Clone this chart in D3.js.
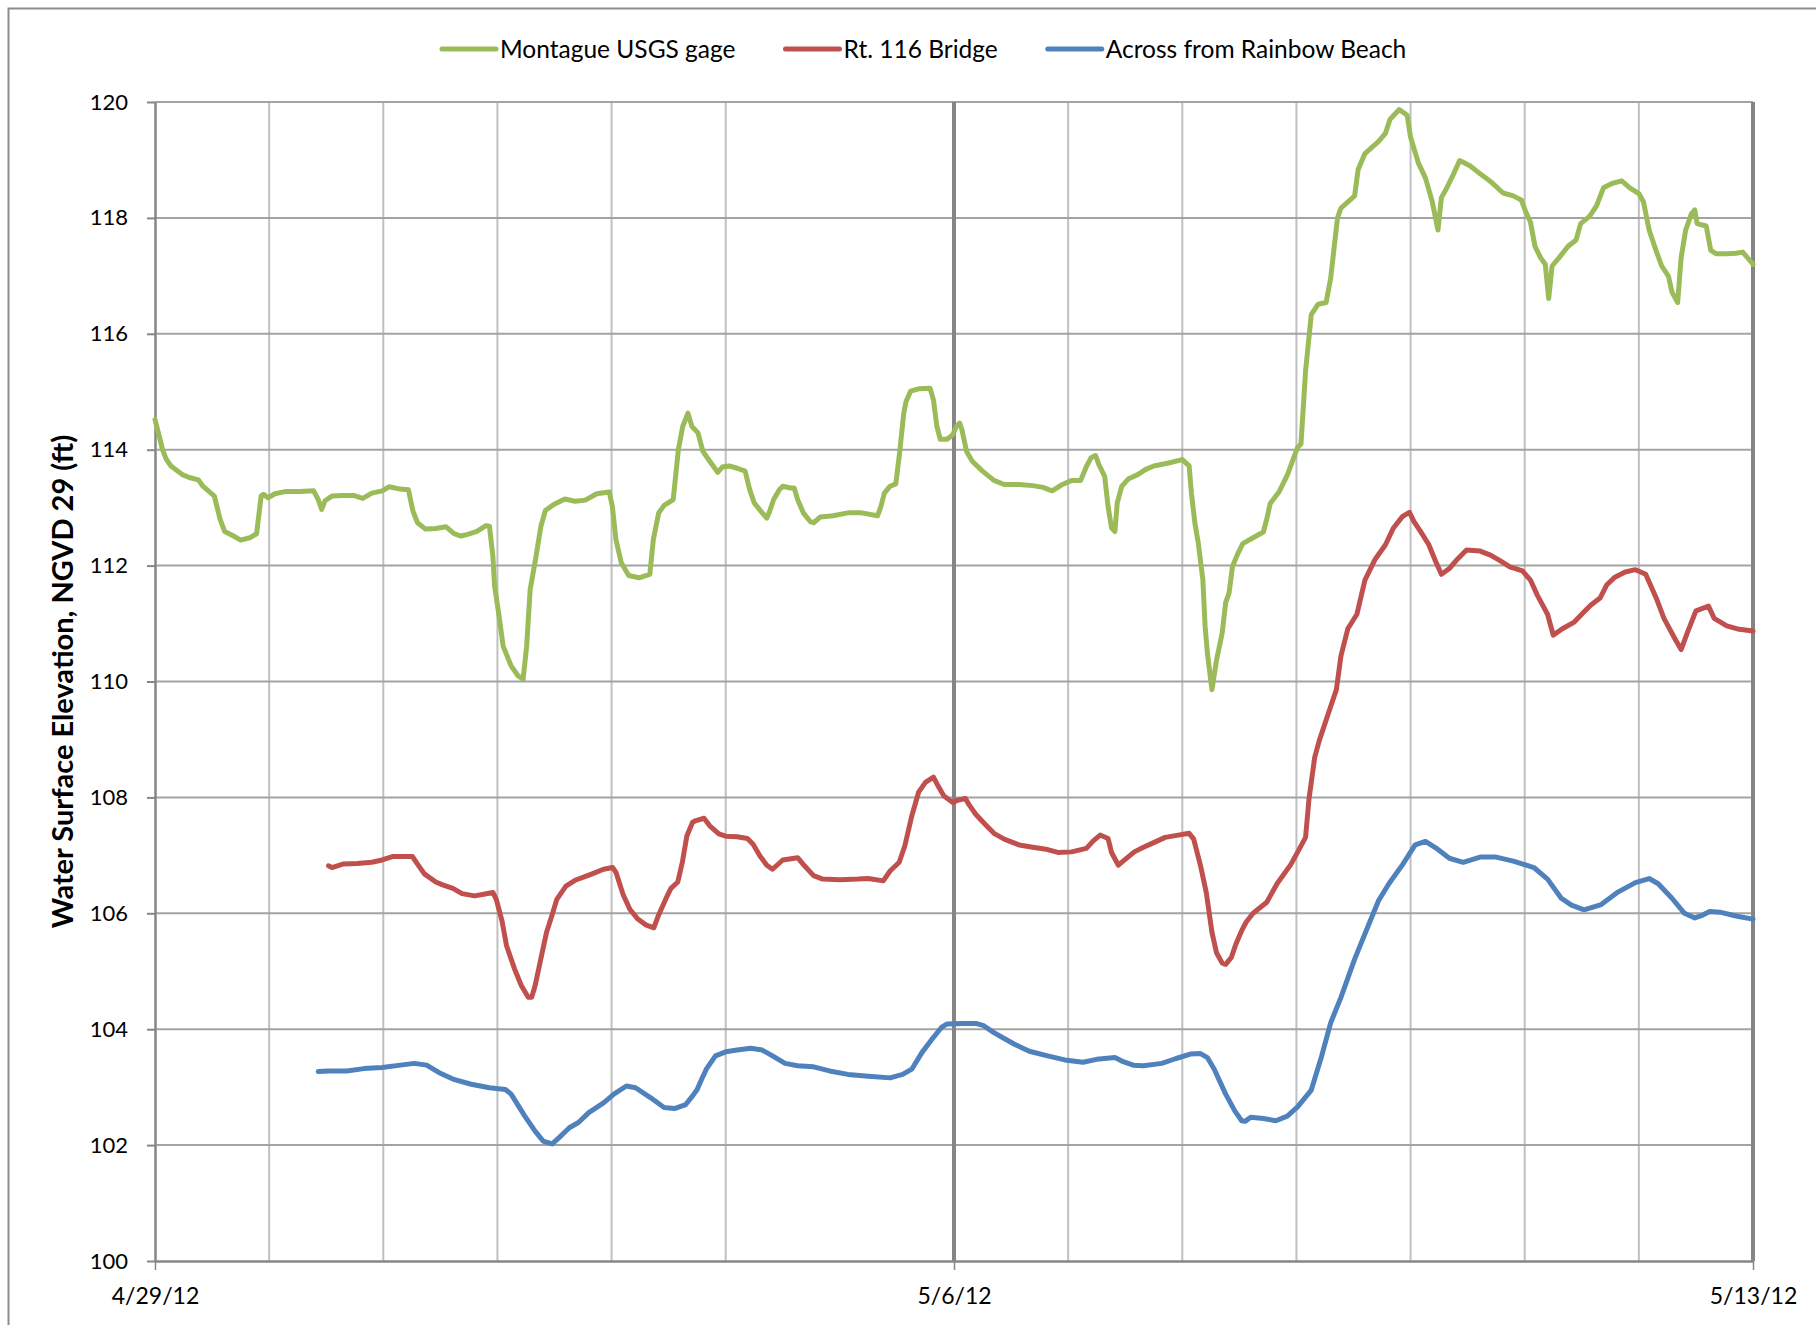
<!DOCTYPE html>
<html>
<head>
<meta charset="utf-8">
<script src="https://cdn.jsdelivr.net/npm/d3@7"></script>
<style>
  body { margin: 0; background: #fff; }
  svg { display: block; font-family: Lato, "Open Sans", sans-serif; }
</style>
</head>
<body>
<svg id="chart" width="1816" height="1325"></svg>
<script>
// Water surface elevation records, [days since 4/29/12 00:00, elevation in ft NGVD 29]
const montagueGage = [
  [0.00,114.52],[0.03,114.29],[0.066,114.0],[0.10,113.83],[0.14,113.72],[0.24,113.57],[0.30,113.52],
  [0.38,113.48],[0.42,113.37],[0.52,113.2],[0.57,112.8],[0.61,112.59],[0.68,112.52],[0.75,112.44],
  [0.83,112.48],[0.89,112.55],[0.93,113.2],[0.95,113.23],[0.99,113.17],[1.05,113.24],[1.15,113.28],
  [1.27,113.28],[1.39,113.29],[1.43,113.14],[1.46,112.97],[1.49,113.12],[1.55,113.2],[1.65,113.21],
  [1.74,113.21],[1.82,113.16],[1.90,113.25],[1.99,113.29],[2.05,113.36],[2.15,113.32],[2.22,113.31],
  [2.26,112.94],[2.30,112.74],[2.37,112.63],[2.46,112.64],[2.55,112.67],[2.62,112.55],[2.68,112.51],
  [2.74,112.54],[2.82,112.59],[2.90,112.69],[2.93,112.68],[2.96,112.16],[2.975,111.65],[3.01,111.19],
  [3.05,110.61],[3.12,110.27],[3.18,110.1],[3.225,110.04],[3.256,110.61],[3.287,111.59],[3.334,112.11],
  [3.381,112.68],[3.42,112.95],[3.49,113.05],[3.59,113.15],[3.68,113.11],[3.77,113.13],[3.87,113.24],
  [3.98,113.27],[4.007,113.02],[4.038,112.45],[4.085,112.05],[4.15,111.83],[4.24,111.79],[4.335,111.85],
  [4.366,112.45],[4.413,112.91],[4.46,113.04],[4.54,113.14],[4.585,114.0],[4.623,114.4],[4.669,114.63],
  [4.704,114.4],[4.757,114.29],[4.80,113.97],[4.86,113.8],[4.93,113.61],[4.97,113.7],[5.03,113.72],
  [5.10,113.68],[5.17,113.63],[5.21,113.31],[5.25,113.08],[5.32,112.91],[5.36,112.82],[5.38,112.91],
  [5.42,113.14],[5.47,113.31],[5.50,113.37],[5.57,113.34],[5.60,113.34],[5.63,113.14],[5.68,112.91],
  [5.74,112.76],[5.77,112.74],[5.83,112.84],[5.94,112.86],[6.07,112.91],[6.19,112.91],[6.33,112.86],
  [6.36,113.02],[6.39,113.25],[6.44,113.37],[6.49,113.41],[6.52,113.89],[6.56,114.63],[6.58,114.83],
  [6.62,115.01],[6.69,115.05],[6.79,115.06],[6.82,114.86],[6.85,114.4],[6.88,114.18],[6.94,114.18],
  [6.99,114.26],[7.02,114.4],[7.05,114.46],[7.07,114.34],[7.11,113.97],[7.16,113.8],[7.25,113.63],
  [7.35,113.47],[7.44,113.4],[7.57,113.4],[7.69,113.38],[7.78,113.35],[7.86,113.29],[7.94,113.39],
  [8.03,113.47],[8.11,113.47],[8.16,113.71],[8.20,113.86],[8.24,113.9],[8.27,113.74],[8.32,113.54],
  [8.35,113.02],[8.38,112.65],[8.41,112.59],[8.43,113.08],[8.47,113.37],[8.53,113.5],[8.61,113.57],
  [8.68,113.66],[8.75,113.72],[8.88,113.77],[9.00,113.83],[9.06,113.72],[9.08,113.25],[9.11,112.74],
  [9.14,112.39],[9.18,111.76],[9.20,110.95],[9.22,110.49],[9.26,109.86],[9.30,110.37],[9.35,110.84],
  [9.38,111.36],[9.41,111.53],[9.44,111.99],[9.49,112.22],[9.53,112.38],[9.62,112.48],[9.71,112.58],
  [9.74,112.8],[9.77,113.07],[9.85,113.28],[9.92,113.56],[10.01,114.04],[10.04,114.1],[10.08,115.36],
  [10.13,116.33],[10.19,116.51],[10.26,116.54],[10.30,116.96],[10.36,118.0],[10.39,118.17],[10.51,118.38],
  [10.54,118.83],[10.60,119.11],[10.72,119.32],[10.78,119.46],[10.82,119.7],[10.90,119.87],[10.97,119.77],
  [11.00,119.39],[11.07,118.94],[11.13,118.69],[11.19,118.28],[11.24,117.79],[11.27,118.35],[11.31,118.49],
  [11.37,118.73],[11.43,118.99],[11.52,118.9],[11.61,118.76],[11.70,118.63],[11.81,118.43],[11.90,118.38],
  [11.97,118.31],[12.01,118.1],[12.05,117.93],[12.09,117.51],[12.14,117.31],[12.18,117.2],[12.21,116.61],
  [12.24,117.17],[12.30,117.31],[12.38,117.51],[12.45,117.62],[12.49,117.9],[12.57,118.03],[12.63,118.21],
  [12.69,118.52],[12.76,118.59],[12.85,118.64],[12.92,118.52],[13.00,118.42],[13.04,118.28],[13.09,117.79],
  [13.15,117.44],[13.20,117.17],[13.26,116.99],[13.29,116.72],[13.34,116.54],[13.37,117.31],[13.41,117.79],
  [13.46,118.07],[13.49,118.14],[13.51,117.9],[13.59,117.86],[13.63,117.44],[13.68,117.38],[13.77,117.38],
  [13.85,117.39],[13.91,117.41],[14.00,117.2]
];

const rt116Bridge = [
  [1.52,106.82],[1.55,106.79],[1.645,106.85],[1.77,106.86],[1.90,106.88],[1.99,106.92],[2.08,106.98],
  [2.18,106.98],[2.255,106.98],[2.30,106.85],[2.36,106.68],[2.46,106.54],[2.52,106.49],[2.61,106.43],
  [2.69,106.34],[2.80,106.3],[2.88,106.33],[2.96,106.36],[2.99,106.24],[3.04,105.87],[3.08,105.44],
  [3.15,105.04],[3.21,104.75],[3.27,104.55],[3.30,104.55],[3.33,104.75],[3.38,105.21],[3.43,105.67],
  [3.48,105.98],[3.52,106.24],[3.60,106.47],[3.68,106.57],[3.76,106.63],[3.83,106.68],[3.93,106.76],
  [4.01,106.79],[4.04,106.7],[4.10,106.33],[4.16,106.07],[4.23,105.9],[4.30,105.8],[4.37,105.75],
  [4.41,105.96],[4.48,106.27],[4.52,106.43],[4.58,106.54],[4.62,106.88],[4.66,107.34],[4.71,107.57],
  [4.74,107.6],[4.81,107.64],[4.86,107.51],[4.94,107.37],[5.00,107.33],[5.10,107.32],[5.19,107.29],
  [5.24,107.19],[5.30,106.99],[5.36,106.83],[5.41,106.76],[5.50,106.92],[5.63,106.96],[5.69,106.82],
  [5.77,106.65],[5.85,106.59],[6.00,106.58],[6.16,106.59],[6.25,106.6],[6.38,106.56],[6.44,106.73],
  [6.52,106.88],[6.57,107.17],[6.63,107.68],[6.69,108.09],[6.75,108.26],[6.82,108.35],[6.86,108.2],
  [6.91,108.03],[6.99,107.91],[7.03,107.95],[7.10,107.98],[7.13,107.88],[7.19,107.71],[7.27,107.54],
  [7.35,107.38],[7.44,107.28],[7.57,107.18],[7.69,107.14],[7.82,107.1],[7.91,107.05],[8.03,107.06],
  [8.16,107.12],[8.22,107.25],[8.28,107.35],[8.35,107.29],[8.38,107.05],[8.44,106.83],[8.50,106.93],
  [8.58,107.06],[8.66,107.14],[8.75,107.22],[8.85,107.31],[8.94,107.34],[9.06,107.38],[9.10,107.28],
  [9.16,106.82],[9.21,106.36],[9.26,105.67],[9.30,105.32],[9.35,105.14],[9.38,105.12],[9.43,105.24],
  [9.47,105.47],[9.52,105.7],[9.56,105.85],[9.62,106.0],[9.74,106.19],[9.83,106.51],[9.95,106.84],
  [10.02,107.09],[10.08,107.31],[10.11,107.97],[10.16,108.69],[10.20,108.98],[10.30,109.57],[10.35,109.86],
  [10.39,110.44],[10.45,110.91],[10.53,111.16],[10.60,111.75],[10.69,112.11],[10.78,112.36],[10.85,112.65],
  [10.93,112.85],[10.99,112.92],[11.03,112.76],[11.09,112.58],[11.16,112.36],[11.22,112.07],[11.27,111.85],
  [11.34,111.95],[11.41,112.11],[11.49,112.27],[11.61,112.25],[11.70,112.18],[11.78,112.09],[11.87,111.98],
  [11.98,111.91],[12.05,111.75],[12.11,111.49],[12.20,111.16],[12.25,110.8],[12.33,110.91],[12.43,111.02],
  [12.51,111.18],[12.58,111.32],[12.66,111.44],[12.72,111.67],[12.79,111.8],[12.88,111.89],[12.97,111.93],
  [13.06,111.85],[13.15,111.45],[13.22,111.09],[13.31,110.76],[13.37,110.55],[13.43,110.87],[13.50,111.22],
  [13.61,111.3],[13.66,111.09],[13.77,110.96],[13.88,110.9],[14.00,110.87]
];

const rainbowBeach = [
  [1.43,103.27],[1.52,103.28],[1.68,103.28],[1.83,103.32],[1.99,103.34],[2.15,103.38],[2.27,103.41],
  [2.38,103.38],[2.49,103.25],[2.61,103.14],[2.77,103.05],[2.93,102.99],[3.07,102.96],[3.12,102.88],
  [3.24,102.5],[3.33,102.24],[3.40,102.07],[3.48,102.02],[3.54,102.13],[3.63,102.3],[3.71,102.39],
  [3.80,102.56],[3.93,102.73],[4.02,102.88],[4.13,103.02],[4.21,102.99],[4.34,102.82],[4.46,102.65],
  [4.55,102.63],[4.65,102.7],[4.71,102.85],[4.75,102.96],[4.79,103.14],[4.83,103.31],[4.91,103.54],
  [5.00,103.61],[5.10,103.64],[5.22,103.67],[5.32,103.64],[5.41,103.54],[5.52,103.41],[5.63,103.37],
  [5.77,103.35],[5.91,103.28],[6.07,103.22],[6.25,103.19],[6.44,103.16],[6.55,103.22],[6.63,103.31],
  [6.72,103.6],[6.82,103.86],[6.89,104.03],[6.94,104.09],[7.07,104.1],[7.19,104.1],[7.26,104.06],
  [7.35,103.94],[7.44,103.84],[7.53,103.74],[7.66,103.62],[7.82,103.54],[7.97,103.47],[8.13,103.43],
  [8.25,103.48],[8.41,103.51],[8.47,103.45],[8.57,103.38],[8.66,103.37],[8.82,103.41],[8.94,103.49],
  [9.07,103.57],[9.16,103.58],[9.22,103.51],[9.28,103.31],[9.38,102.88],[9.46,102.59],[9.52,102.42],
  [9.55,102.41],[9.60,102.48],[9.71,102.46],[9.82,102.42],[9.92,102.5],[10.01,102.66],[10.13,102.95],
  [10.22,103.53],[10.30,104.11],[10.39,104.55],[10.51,105.21],[10.63,105.79],[10.72,106.22],[10.81,106.51],
  [10.93,106.84],[11.04,107.18],[11.13,107.24],[11.22,107.13],[11.34,106.95],[11.46,106.88],[11.61,106.97],
  [11.75,106.97],[11.90,106.9],[12.08,106.79],[12.20,106.59],[12.32,106.26],[12.41,106.14],[12.52,106.06],
  [12.67,106.15],[12.82,106.37],[12.97,106.53],[13.09,106.6],[13.17,106.51],[13.29,106.26],[13.40,106.0],
  [13.49,105.92],[13.56,105.97],[13.62,106.03],[13.71,106.02],[13.86,105.95],[14.00,105.9]
];

const seriesNames  = ["Montague USGS gage", "Rt. 116 Bridge", "Across from Rainbow Beach"];
const seriesColors = ["#9BBB59", "#C0504D", "#4F81BD"];
const yTickValues  = [100, 102, 104, 106, 108, 110, 112, 114, 116, 118, 120];
const xLabelDays   = [0, 7, 14];          // labelled dates: 4/29/12, 5/6/12, 5/13/12
const startDate    = Date.UTC(2012, 3, 29);
const yTitle       = "Water Surface Elevation, NGVD 29 (ft)";

const DAY = 86400000;
const toDate = d => new Date(startDate + d * DAY);

const svg = d3.select("#chart");
const W = 1816, H = 1325;
const plot = { left: 155, right: 1753, top: 102, bottom: 1261 };

// chart-area frame
svg.append("rect")
  .attr("x", 8.5).attr("y", 8.5)
  .attr("width", W + 40).attr("height", H + 40)
  .attr("fill", "#fff").attr("stroke", "#8c8c8c").attr("stroke-width", 2);

const x = d3.scaleUtc()
  .domain([toDate(0), toDate(14)])
  .range([plot.left, plot.right]);
const y = d3.scaleLinear()
  .domain([100, 120])
  .range([plot.bottom, plot.top]);

// vertical day gridlines
const days = d3.utcDay.range(toDate(1), toDate(14));
svg.append("g").selectAll("line")
  .data(days.filter((d, i) => i !== 5))
  .join("line")
  .attr("x1", d => x(d)).attr("x2", d => x(d))
  .attr("y1", plot.top).attr("y2", plot.bottom)
  .attr("stroke", "#c0c0c0").attr("stroke-width", 2);

// horizontal gridlines
svg.append("g").selectAll("line")
  .data(yTickValues.filter(v => v > 100))
  .join("line")
  .attr("x1", plot.left).attr("x2", plot.right)
  .attr("y1", d => y(d)).attr("y2", d => y(d))
  .attr("stroke", "#a3a3a3").attr("stroke-width", 2);

// weekly divider lines
svg.append("g").selectAll("line")
  .data([toDate(7), toDate(14)])
  .join("line")
  .attr("x1", d => x(d)).attr("x2", d => x(d))
  .attr("y1", plot.top).attr("y2", plot.bottom)
  .attr("stroke", "#858585").attr("stroke-width", 4);

// y axis
const yAxis = svg.append("g")
  .attr("transform", `translate(${plot.left},0)`)
  .call(d3.axisLeft(y).tickValues(yTickValues).tickSize(8).tickSizeOuter(0).tickPadding(19));
yAxis.select(".domain").attr("stroke", "#868686").attr("stroke-width", 2.5);
yAxis.selectAll(".tick line").attr("stroke", "#868686").attr("stroke-width", 2);
yAxis.selectAll(".tick text").attr("font-size", 22).attr("fill", "#000")
  .attr("font-family", "Lato, sans-serif");

// x axis
const xAxis = svg.append("g")
  .attr("transform", `translate(0,${plot.bottom})`)
  .call(d3.axisBottom(x)
    .tickValues(xLabelDays.map(toDate))
    .tickFormat(d3.utcFormat("%-m/%-d/%y"))
    .tickSize(9).tickSizeOuter(0).tickPadding(18));
xAxis.select(".domain").attr("stroke", "#868686").attr("stroke-width", 2.5);
xAxis.selectAll(".tick line").attr("stroke", "#868686").attr("stroke-width", 1.5);
xAxis.selectAll(".tick text").attr("font-size", 23).attr("fill", "#000")
  .attr("font-family", "Lato, sans-serif");

// y axis title
svg.append("text")
  .attr("transform", `translate(73,${(plot.top + plot.bottom) / 2}) rotate(-90)`)
  .attr("text-anchor", "middle")
  .attr("font-size", 29).attr("font-weight", "bold").attr("fill", "#000")
  .text(yTitle);

// series lines
const line = d3.line()
  .x(d => x(toDate(d[0])))
  .y(d => y(d[1]));
const seriesData = [montagueGage, rt116Bridge, rainbowBeach];
svg.append("g").selectAll("path")
  .data(seriesData)
  .join("path")
  .attr("d", line)
  .attr("fill", "none")
  .attr("stroke", (d, i) => seriesColors[i])
  .attr("stroke-width", 5)
  .attr("stroke-linejoin", "round")
  .attr("stroke-linecap", "round");

// legend
const legend = svg.append("g").attr("transform", "translate(0,49)");
let lx = 442;
seriesNames.forEach((name, i) => {
  legend.append("line")
    .attr("x1", lx).attr("x2", lx + 54)
    .attr("y1", 0).attr("y2", 0)
    .attr("stroke", seriesColors[i]).attr("stroke-width", 5)
    .attr("stroke-linecap", "round");
  const t = legend.append("text")
    .attr("x", lx + 58).attr("y", 0).attr("dy", "0.35em")
    .attr("font-size", 24.5).attr("fill", "#000")
    .text(name);
  lx += 58 + t.node().getComputedTextLength() + 50;
});
</script>
</body>
</html>
